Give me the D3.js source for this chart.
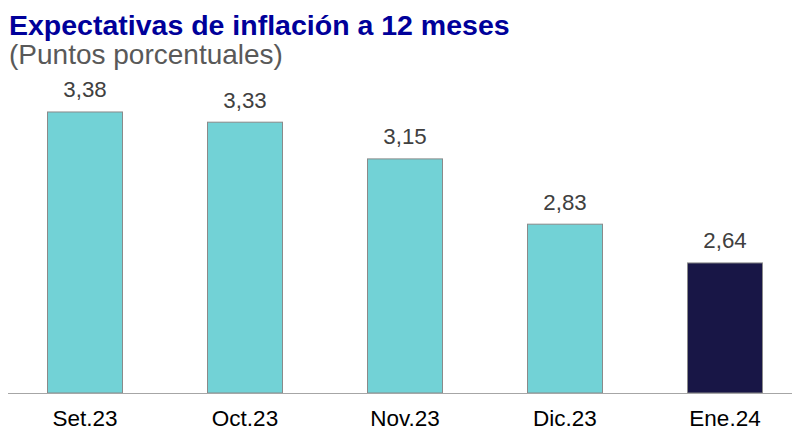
<!DOCTYPE html>
<html>
<head>
<meta charset="utf-8">
<script src="https://cdn.jsdelivr.net/npm/d3@7"></script>
<style>
html,body{margin:0;padding:0;background:#fff;}
svg{display:block;}
</style>
</head>
<body>
<script>
const categories = ["Set.23", "Oct.23", "Nov.23", "Dic.23", "Ene.24"];
const values = [3.38, 3.33, 3.15, 2.83, 2.64];
const highlight = [false, false, false, false, true];

const W = 795, H = 430;
const svg = d3.select("body").append("svg").attr("width", W).attr("height", H);

svg.append("text").attr("x", 9).attr("y", 35)
  .attr("font-family", "Liberation Sans, Arial, sans-serif")
  .attr("font-weight", "bold").attr("font-size", 28.5).attr("fill", "#00009A")
  .text("Expectativas de inflación a 12 meses");
svg.append("text").attr("x", 9).attr("y", 64)
  .attr("font-family", "Liberation Sans, Arial, sans-serif")
  .attr("font-size", 28).attr("fill", "#595959")
  .text("(Puntos porcentuales)");

const x = d3.scaleBand().domain(categories).range([5, 805])
  .paddingInner(0.525).paddingOuter(0.2625);
const y = d3.scaleLinear().domain([2, 3.5]).range([393, 87]);

const g = svg.append("g");
g.selectAll("rect").data(values).join("rect")
  .attr("x", (d, i) => x(categories[i]) + 0.5)
  .attr("y", d => y(d) + 0.5)
  .attr("width", x.bandwidth() - 1)
  .attr("height", d => y(2) - y(d) - 0.5)
  .attr("fill", (d, i) => highlight[i] ? "#181646" : "#72D2D6")
  .attr("stroke", "#8A8A8A").attr("stroke-width", 1);

svg.append("line").attr("x1", 8).attr("x2", 792)
  .attr("y1", y(2) + 0.5).attr("y2", y(2) + 0.5)
  .attr("stroke", "#A6A6A6").attr("stroke-width", 1);

g.selectAll("text.val").data(values).join("text").attr("class", "val")
  .attr("x", (d, i) => x(categories[i]) + x.bandwidth() / 2)
  .attr("y", d => y(d) - 14)
  .attr("text-anchor", "middle")
  .attr("font-family", "Liberation Sans, Arial, sans-serif")
  .attr("font-size", 22.3).attr("fill", "#404040")
  .text(d => d.toFixed(2).replace(".", ","));

const xAxis = d3.axisBottom(x).tickSize(0).tickPadding(0);
const ax = svg.append("g").attr("transform", `translate(0,${y(2)})`).call(xAxis);
ax.select(".domain").remove();
ax.selectAll("text")
  .attr("dy", 0).attr("y", 33)
  .attr("font-family", "Liberation Sans, Arial, sans-serif")
  .attr("font-size", 22.5).attr("fill", "#000");
</script>
</body>
</html>
